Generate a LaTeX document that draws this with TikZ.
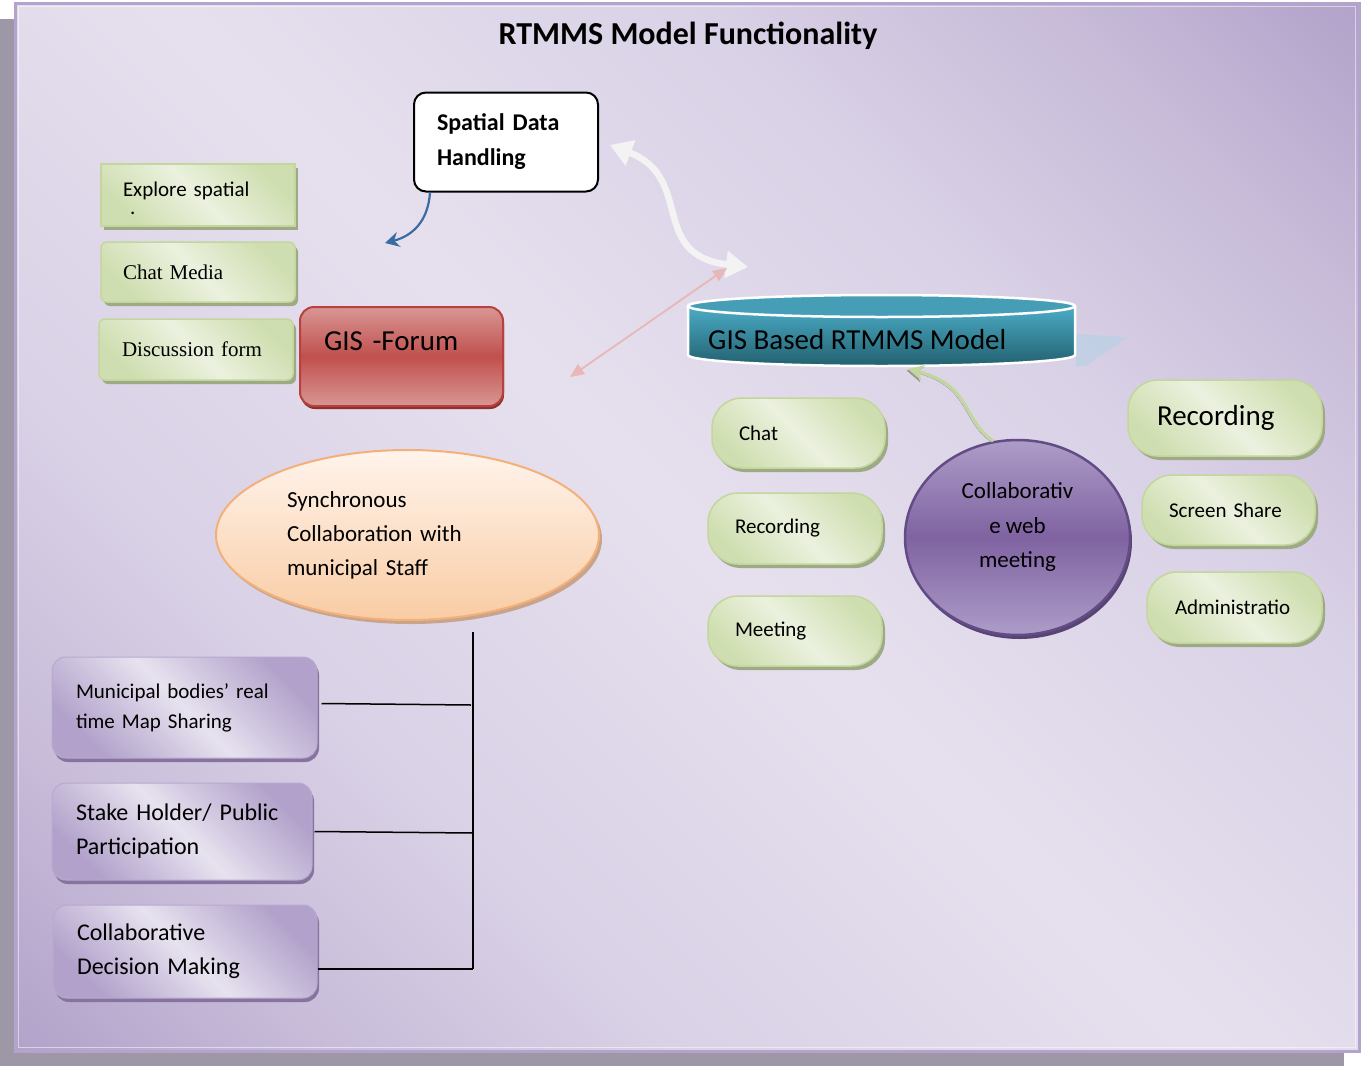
\documentclass[tikz,border=0pt]{standalone}
\usepackage{fontspec}
\setmainfont{Carlito}
\newfontfamily\timesface{Liberation Serif}
\usepackage{xcolor}
\usetikzlibrary{positioning,shapes,calc,shadows}
\usetikzlibrary{arrows.meta,arrows}
\definecolor{panelLight}{HTML}{E6E0EE}
\definecolor{panelSoft}{HTML}{D9D1E6}
\definecolor{panelMid}{HTML}{C8BCD9}
\definecolor{panelDark}{HTML}{B0A1C9}
\definecolor{panelLine}{HTML}{B3A3CD}
\definecolor{pageShadow}{HTML}{9E98A6}
\definecolor{greenLight}{HTML}{EBF1DE}
\definecolor{greenMid}{HTML}{CFDEB0}
\definecolor{greenLine}{HTML}{C3D69B}
\definecolor{greenShadow}{HTML}{9DAA85}
\definecolor{redLight}{HTML}{D99694}
\definecolor{redMid}{HTML}{C0504D}
\definecolor{redLine}{HTML}{B8403D}
\definecolor{redShadow}{HTML}{8C2F2D}
\definecolor{tealTop}{HTML}{4BACC6}
\definecolor{tealBottom}{HTML}{22606F}
\definecolor{tealGhost}{HTML}{BBD0E4}
\definecolor{purpleLight}{HTML}{AD9CC8}
\definecolor{purpleMid}{HTML}{7F63A1}
\definecolor{purpleLine}{HTML}{634C85}
\definecolor{purpleShadow}{HTML}{584472}
\definecolor{lavLight}{HTML}{E7E2EF}
\definecolor{lavDark}{HTML}{B2A2CB}
\definecolor{lavLine}{HTML}{B8A9D0}
\definecolor{lavShadow}{HTML}{86749F}
\definecolor{peachTop}{HTML}{FFF4EC}
\definecolor{peachBottom}{HTML}{F9CCA4}
\definecolor{peachLine}{HTML}{F4B07A}
\definecolor{peachShadow}{HTML}{C8A48C}
\definecolor{arrowWhite}{HTML}{F3F3F3}
\definecolor{arrowPink}{HTML}{E8B7B6}
\definecolor{arrowBlue}{HTML}{3B6BA3}
\pgfdeclareverticalshading{panelshade}{100bp}{color(0bp)=(panelDark); color(14bp)=(panelDark); color(24bp)=(panelMid); color(34bp)=(panelSoft); color(50bp)=(panelLight); color(66bp)=(panelSoft); color(76bp)=(panelMid); color(86bp)=(panelDark); color(100bp)=(panelDark)}
\tikzstyle{nodeGreen} =[draw=greenLine, line width=1.5pt, top color=greenMid, bottom color=greenMid, middle color=greenLight, shading angle=-45, drop shadow={shadow xshift=3pt,shadow yshift=-4pt,fill=greenShadow,opacity=1}, align=left, inner ysep=0pt]
\tikzstyle{nodePill}  =[nodeGreen, rounded corners=30pt, font=\fontsize{21}{26}\selectfont]
\tikzstyle{nodeLav}   =[draw=lavLine, line width=1pt, top color=lavDark, bottom color=lavDark, middle color=lavLight, shading angle=-45, rounded corners=14pt, drop shadow={shadow xshift=2pt,shadow yshift=-4pt,fill=lavShadow,opacity=1}, align=left, inner xsep=24pt, inner ysep=0pt]

\begin{document}
\begin{tikzpicture}[x=1pt,y=-1pt]
      \useasboundingbox (0,0) rectangle (1361,1066);
      \fill[white] (0,0) rectangle (1361,1066);
      \fill[pageShadow] (0,19) rectangle (1344,1066);
      \shade[shading=panelshade, shading angle=-45] (15,3) rectangle (1359,1051);
      \draw[panelLine, line width=3pt] (15,3) rectangle (1359,1051);
      \draw[white, opacity=0.5, line width=1pt] (18.5,6.5) rectangle (1355.5,1047.5);
      \node[font=\bfseries\fontsize{32}{38}\selectfont] (title) at (688,36) {RTMMS Model Functionality};

      \node[draw, line width=2pt, fill=white, rounded corners=12pt, minimum width=184, minimum height=99, text width=138, inner xsep=23pt, align=left, font=\bfseries\fontsize{24}{35}\selectfont] (spatial) at (506,142) {Spatial Data\\Handling};
      \node[nodeGreen, minimum width=194, minimum height=62, text width=150, inner xsep=22pt, text depth=12pt, font=\fontsize{21}{18}\selectfont] (explore) at (198,195) {Explore spatial\\\hspace*{7pt}.};
      \node[nodeGreen, rounded corners=6pt, minimum width=194, minimum height=60, text width=150, inner xsep=22pt, font=\timesface\fontsize{21}{26}\selectfont] (chatmedia) at (198,272) {Chat Media};
      \node[nodeGreen, rounded corners=6pt, minimum width=194, minimum height=61, text width=148, inner xsep=23pt, font=\timesface\fontsize{21}{26}\selectfont] (discussion) at (196,349.5) {Discussion form};
      \node[draw=redLine, line width=2pt, top color=redLight, bottom color=redLight, middle color=redMid, rounded corners=14pt, drop shadow={shadow xshift=1pt,shadow yshift=-3pt,fill=redShadow,opacity=1}, minimum width=203, minimum height=99, text width=155, inner xsep=24pt, text depth=30pt, align=left, font=\fontsize{29}{34}\selectfont] (forum) at (401.5,356.5) {GIS -Forum};

      \fill[tealGhost, opacity=0.75] (1076,334) -- (1128,337) -- (1086,366) -- (1076,366) -- cycle;
      \shade[top color=tealTop, bottom color=tealBottom] (688,306) -- (688,355) arc[start angle=180, end angle=0, x radius=193.5, y radius=11] -- (1075,306) -- cycle;
      \draw[white, line width=2.5pt] (688,306) -- (688,355) arc[start angle=180, end angle=0, x radius=193.5, y radius=11] -- (1075,306);
      \draw[white, line width=2.5pt, fill=tealTop!92!black] (881.5,306) ellipse[x radius=193.5, y radius=11];
      \node[anchor=west, inner sep=0pt, font=\fontsize{29}{34}\selectfont] (gisbase) at (708,340) {GIS Based RTMMS Model};
      \coordinate (cylbot) at (908,369);

      \node[nodePill, minimum width=173, minimum height=70, text width=119, inner xsep=27pt] (chat) at (798.5,433) {Chat};
      \node[nodePill, minimum width=174, minimum height=71, text width=120, inner xsep=27pt] (recleft) at (795,528.5) {Recording};
      \node[nodePill, minimum width=174, minimum height=70, text width=120, inner xsep=27pt] (meeting) at (795,631) {Meeting};
      \node[nodePill, minimum width=194, minimum height=76, text width=136, inner xsep=29pt, font=\fontsize{29}{34}\selectfont] (recright) at (1225,418) {Recording};
      \node[nodePill, minimum width=173, minimum height=70, text width=119, inner xsep=27pt] (screen) at (1228.5,510) {Screen Share};
      \node[nodePill, minimum width=175, minimum height=71, text width=119, inner xsep=28pt] (admin) at (1234.5,607.5) {Administratio};

      \node[ellipse, draw=purpleLine, line width=2.5pt, top color=purpleLight, bottom color=purpleLight, middle color=purpleMid, drop shadow={shadow xshift=2pt,shadow yshift=-4pt,fill=purpleShadow,opacity=1}, minimum width=225, minimum height=195, inner sep=0pt, align=center, font=\fontsize{23}{34.5}\selectfont] (collab) at (1017.5,537.5) {Collaborativ\\e web\\meeting\\[-10pt]\mbox{}};

      \node[ellipse, draw=peachLine, line width=2pt, top color=peachTop, bottom color=peachBottom, drop shadow={shadow xshift=3pt,shadow yshift=-4pt,fill=peachShadow,opacity=1}, minimum width=383, minimum height=170, inner sep=0pt, text width=241, align=left, font=\fontsize{23}{34}\selectfont] (sync) at (407.5,535) {Synchronous\\Collaboration with\\municipal Staff};

      \node[nodeLav, minimum width=265, minimum height=101, text width=217, font=\fontsize{21}{30}\selectfont] (mun) at (184.5,707.5) {Municipal bodies’ real\\time Map Sharing};
      \node[nodeLav, minimum width=260, minimum height=97, text width=212, font=\fontsize{24}{34}\selectfont] (stake) at (182,831.5) {Stake Holder/ Public\\Participation};
      \node[nodeLav, minimum width=264, minimum height=93, text width=216, font=\fontsize{24}{34}\selectfont] (dec) at (185,951.5) {Collaborative\\Decision Making};

      \coordinate (wa) at (610,145);
      \coordinate (wb) at (748,267);
      \coordinate (pa) at (570,377);
      \coordinate (pb) at (727,268);
      \coordinate (bluetip) at (385,243);
      \draw[line width=6.5pt, arrowWhite, {Triangle[width=26pt,length=22pt]}-{Triangle[width=26pt,length=22pt]}] (wa) .. controls (695,178) and (648,255) .. (wb);
      \draw[line width=1.8pt, arrowPink, {Triangle[width=12pt,length=14pt]}-{Triangle[width=12pt,length=14pt]}] (pa) -- (pb);
      \draw[line width=2.2pt, arrowBlue, -{Stealth[width=15pt,length=14pt]}] ($(spatial.south west)+(17,0)$) .. controls (428,222) and (412,236) .. (bluetip);
      \draw[line width=3pt, greenLine, -{Stealth[width=16pt,length=16pt]}, preaction={draw=gray!80, transform canvas={xshift=-1.5pt,yshift=-1.5pt}}] (collab.104) .. controls (962,420) and (972,385) .. (cylbot);

      \coordinate (jtop) at (473,632);
      \coordinate (j1) at (471,705);
      \coordinate (j2) at (473,833);
      \coordinate (j3) at (473,969);
      \draw[line width=1.5pt] (jtop) -- (j3);
      \draw[line width=1.5pt] ([xshift=4pt,yshift=4pt]mun.east) -- (j1);
      \draw[line width=1.5pt] ([xshift=2pt]stake.east) -- (j2);
      \draw[line width=1.5pt] (dec.east |- j3) -- (j3);
    \end{tikzpicture}
\end{document}
